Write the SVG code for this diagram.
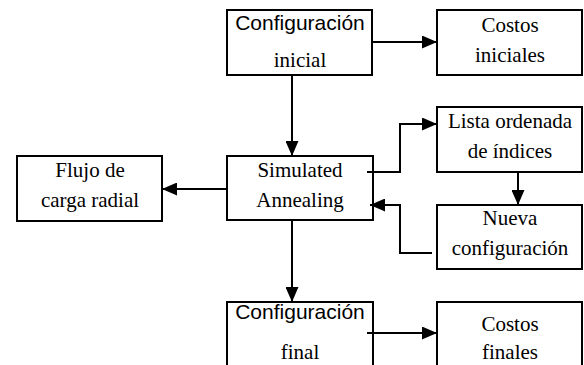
<svg xmlns="http://www.w3.org/2000/svg" width="584" height="365" viewBox="0 0 584 365">
<style>
.box{fill:#fff;stroke:#000;stroke-width:2}
.serif{font-family:"Liberation Serif","Times New Roman",serif;font-size:21px;fill:#000;text-anchor:middle}
.sans{font-family:"Liberation Sans",Arial,sans-serif;font-size:21px;fill:#000;text-anchor:middle}
.conn{fill:none;stroke:#000;stroke-width:2;marker-end:url(#arr)}
</style>
<defs>
<marker id="arr" markerUnits="userSpaceOnUse" markerWidth="15" markerHeight="13" refX="15" refY="6.5" orient="auto">
<path d="M0,0 L15,6.5 L0,13 z" fill="#000"/>
</marker>
</defs>
<rect width="584" height="365" fill="#fff"/>
<g id="config-inicial">
<rect class="box" x="227" y="10" width="145" height="65"/>
<text class="sans" x="300" y="30">Configuración</text>
<text class="serif" x="300" y="67">inicial</text>
</g>
<g id="costos-iniciales">
<rect class="box" x="437" y="10" width="145" height="65"/>
<text class="serif" x="510" y="32">Costos</text>
<text class="serif" x="510" y="62">iniciales</text>
</g>
<g id="flujo">
<rect class="box" x="17" y="156" width="145" height="65"/>
<text class="serif" x="90" y="177">Flujo de</text>
<text class="serif" x="90" y="207">carga radial</text>
</g>
<g id="simulated-annealing">
<rect class="box" x="227" y="156" width="146" height="64"/>
<text class="serif" x="300" y="177">Simulated</text>
<text class="serif" x="300" y="207">Annealing</text>
</g>
<g id="lista">
<rect class="box" x="437" y="107" width="145" height="65"/>
<text class="serif" x="510" y="128">Lista ordenada</text>
<text class="serif" x="510" y="158">de índices</text>
</g>
<g id="nueva">
<rect class="box" x="437" y="205" width="145" height="64"/>
<text class="serif" x="510" y="225">Nueva</text>
<text class="serif" x="510" y="255">configuración</text>
</g>
<g id="config-final">
<rect class="box" x="227" y="302" width="146" height="72"/>
<text class="sans" x="300" y="319">Configuración</text>
<text class="serif" x="300" y="359">final</text>
</g>
<g id="costos-finales">
<rect class="box" x="437" y="302" width="145" height="72"/>
<text class="serif" x="510" y="331">Costos</text>
<text class="serif" x="510" y="359">finales</text>
</g>
<g id="connectors">
<path class="conn" d="M372,42 H437"/>
<path class="conn" d="M292,75 V156"/>
<path class="conn" d="M227,189 H162"/>
<path class="conn" d="M367,172 H400 V124 H437"/>
<path class="conn" d="M518,172 V205"/>
<path class="conn" d="M432,253 H400 V205 H370"/>
<path class="conn" d="M292,220 V302"/>
<path class="conn" d="M367,333 H437"/>
</g>
</svg>
